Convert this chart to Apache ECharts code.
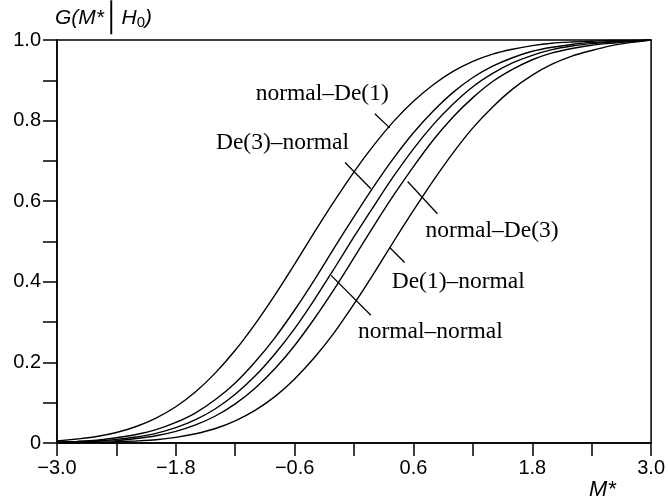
<!DOCTYPE html>
<html>
<head>
<meta charset="utf-8">
<script src="https://cdn.jsdelivr.net/npm/echarts@6/dist/echarts.min.js"></script>
<style>html,body{margin:0;padding:0;background:#fff}#c{width:668px;height:501px}</style>
</head>
<body>
<div id="c"></div>
<script>
// M* grid values
var mValues = [-3.0,-2.8,-2.6,-2.4,-2.2,-2.0,-1.8,-1.6,-1.4,-1.2,-1.0,-0.8,-0.6,-0.4,-0.2,0.0,0.2,0.4,0.6,0.8,1.0,1.2,1.4,1.6,1.8,2.0,2.2,2.4,2.6,2.8,3.0];
// G(M*|H0)
var normalDe1 = [.005,.010,.016,.026,.041,.062,.090,.127,.174,.230,.295,.367,.444,.523,.600,.673,.739,.798,.848,.889,.922,.947,.965,.977,.986,.992,.995,.997,.999,.999,1.0];
var de3Normal = [.002,.004,.007,.013,.021,.033,.051,.075,.108,.149,.201,.261,.330,.405,.484,.562,.637,.707,.770,.824,.870,.907,.935,.956,.972,.982,.989,.994,.996,.998,1.0];
var normalNormal = [.002,.003,.005,.009,.015,.024,.038,.058,.085,.121,.166,.221,.284,.356,.433,.512,.588,.662,.730,.790,.841,.884,.917,.943,.962,.976,.985,.991,.995,.997,1.0];
var normalDe3 = [.001,.002,.004,.006,.011,.018,.029,.045,.067,.097,.136,.184,.242,.309,.382,.460,.539,.615,.686,.752,.809,.857,.897,.927,.951,.968,.979,.987,.992,.996,1.0];
var de1Normal = [0,.001,.001,.003,.005,.008,.014,.023,.036,.055,.081,.115,.159,.212,.274,.345,.421,.500,.577,.651,.720,.782,.834,.878,.913,.940,.960,.974,.986,.994,1.0];

var xTickLabels = ['\u22123.0','','\u22121.8','','\u22120.6','','0.6','','1.8','','3.0'];
var yTickLabels = ['0','','0.2','','0.4','','0.6','','0.8','','1.0'];

var curves = [
  {name:'normal\u2013De(1)', values: normalDe1},
  {name:'De(3)\u2013normal', values: de3Normal},
  {name:'normal\u2013normal', values: normalNormal},
  {name:'normal\u2013De(3)', values: normalDe3},
  {name:'De(1)\u2013normal', values: de1Normal}
];
// leader lines: [from, to] in data units
var leaders = [
  [[0.210,0.817],[0.360,0.782]],
  [[-0.091,0.696],[0.170,0.631]],
  [[0.541,0.649],[0.842,0.569]],
  [[0.360,0.485],[0.511,0.448]],
  [[-0.232,0.416],[0.170,0.317]]
];
// label anchors (left, middle) in data units
var labelAnchors = [
  {text:'normal\u2013De(1)', at:[-0.994,0.866]},
  {text:'De(3)\u2013normal', at:[-1.395,0.745]},
  {text:'normal\u2013De(3)', at:[0.721,0.527]},
  {text:'De(1)\u2013normal', at:[0.380,0.401]},
  {text:'normal\u2013normal', at:[0.039,0.275]}
];

var chart = echarts.init(document.getElementById('c'), null, {renderer:'canvas'});
var series = curves.map(function(c, k){
  var s = {
    type:'line', name:c.name, showSymbol:false, smooth:0.3,
    data: mValues.map(function(x,i){return [x, c.values[i]];}),
    lineStyle:{color:'#000', width:1.4}, silent:true, z:3
  };
  if (k === 0) {
    s.markLine = {
      silent:true, symbol:['none','none'], animation:false,
      lineStyle:{color:'#000', width:1.3, type:'solid'}, label:{show:false},
      data: leaders.map(function(l){return [{coord:l[0]},{coord:l[1]}];})
    };
  }
  return s;
});

var axisCommon = {
  axisLine:{show:true, onZero:false, lineStyle:{color:'#000', width:1.5}},
  splitLine:{show:false},
  axisLabel:{color:'#000', fontFamily:'Liberation Sans, Arial, sans-serif', fontSize:20}
};

chart.setOption({
  animation:false,
  backgroundColor:'#fff',
  grid:{left:57, top:40, right:14, bottom:58, show:true, borderColor:'#000', borderWidth:1.5, backgroundColor:'transparent'},
  xAxis: Object.assign({}, axisCommon, {
    type:'value', min:-3, max:3, interval:0.6,
    axisTick:{show:true, inside:false, length:13, lineStyle:{color:'#000', width:1.5}},
    axisLabel: Object.assign({}, axisCommon.axisLabel, {margin:15, showMinLabel:true, showMaxLabel:true,
      formatter:function(v){var i=Math.round((v+3)/0.6); return xTickLabels[i]||'';}})
  }),
  yAxis: Object.assign({}, axisCommon, {
    type:'value', min:0, max:1, interval:0.1,
    axisTick:{show:true, inside:false, length:14, lineStyle:{color:'#000', width:1.5}},
    axisLabel: Object.assign({}, axisCommon.axisLabel, {margin:16,
      formatter:function(v){var i=Math.round(v*10); return yTickLabels[i]||'';}})
  }),
  series: series
});

var g = [];
labelAnchors.forEach(function(a){
  var p = chart.convertToPixel({gridIndex:0}, a.at);
  g.push({type:'text', x:p[0], y:p[1], silent:true, z:10,
    style:{text:a.text, fill:'#000', font:'23.5px "Liberation Serif", "Times New Roman", serif', textAlign:'left', textVerticalAlign:'middle'}});
});
// y axis title G(M*|H0)
g.push({type:'text', x:55, y:18, z:10, style:{
  text:'{i|G(M*}{b|\u2502}{i|H}{s|0}{i|)}',
  textVerticalAlign:'middle', textAlign:'left',
  rich:{
    i:{font:'italic 21px "Liberation Sans", Arial, sans-serif', fill:'#000'},
    b:{font:'28px "Liberation Sans", Arial, sans-serif', fill:'#000'},
    s:{font:'15px "Liberation Sans", Arial, sans-serif', fill:'#000', padding:[10,0,0,0]}
  }
}});
// x axis title M*
g.push({type:'text', x:589, y:490, z:10, style:{text:'M*', font:'italic 22px "Liberation Sans", Arial, sans-serif', fill:'#000', textVerticalAlign:'middle'}});
chart.setOption({graphic:g});
</script>
</body>
</html>
